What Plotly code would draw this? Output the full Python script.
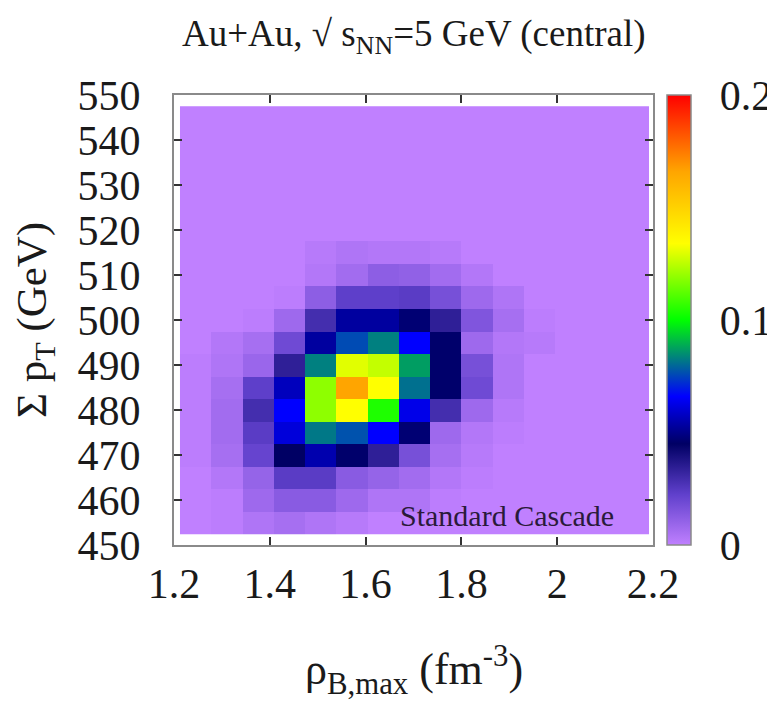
import plotly.graph_objects as go

# bin edges (rho_B,max in fm^-3, sum pT in GeV)
x_edges = [1.2125, 1.2778, 1.3431, 1.4084, 1.4737, 1.5390, 1.6043, 1.6696, 1.7349,
           1.8002, 1.8655, 1.9308, 1.9961, 2.0614, 2.1267, 2.1920]
y_edges = [452.5, 457.5, 462.5, 467.5, 472.5, 477.5, 482.5, 487.5, 492.5, 497.5,
           502.5, 507.5, 512.5, 517.5, 522.5, 527.5, 532.5, 537.5, 542.5, 547.5]

# probability per bin, one list per sum-pT row (15 rho bins each)
row_455 = [0, 0.001, 0.004, 0.006, 0.004, 0.002, 0, 0, 0, 0, 0, 0, 0, 0, 0]
row_460 = [0, 0.001, 0.008, 0.013, 0.013, 0.008, 0.004, 0.004, 0.001, 0, 0, 0, 0, 0, 0]
row_465 = [0, 0.003, 0.010, 0.024, 0.024, 0.013, 0.010, 0.007, 0.003, 0.001, 0, 0, 0, 0, 0]
row_470 = [0.001, 0.006, 0.021, 0.045, 0.055, 0.046, 0.034, 0.017, 0.006, 0.002, 0, 0, 0, 0, 0]
row_475 = [0.001, 0.007, 0.024, 0.061, 0.082, 0.077, 0.066, 0.047, 0.008, 0.003, 0.001, 0, 0, 0, 0]
row_480 = [0.001, 0.007, 0.029, 0.066, 0.119, 0.134, 0.104, 0.063, 0.029, 0.008, 0.002, 0, 0, 0, 0]
row_485 = [0.001, 0.006, 0.023, 0.057, 0.119, 0.166, 0.134, 0.081, 0.046, 0.019, 0.004, 0, 0, 0, 0]
row_490 = [0.001, 0.004, 0.009, 0.034, 0.083, 0.130, 0.126, 0.087, 0.046, 0.017, 0.004, 0, 0, 0, 0]
row_495 = [0, 0.003, 0.006, 0.019, 0.053, 0.076, 0.083, 0.066, 0.046, 0.008, 0.003, 0.002, 0, 0, 0]
row_500 = [0, 0, 0.001, 0.008, 0.029, 0.053, 0.053, 0.047, 0.034, 0.015, 0.006, 0.001, 0, 0, 0]
row_505 = [0, 0, 0, 0.001, 0.012, 0.023, 0.023, 0.024, 0.017, 0.008, 0.004, 0, 0, 0, 0]
row_510 = [0, 0, 0, 0, 0.003, 0.007, 0.012, 0.011, 0.007, 0.003, 0, 0, 0, 0, 0]
row_515 = [0, 0, 0, 0, 0.002, 0.004, 0.003, 0.003, 0.002, 0, 0, 0, 0, 0, 0]
row_520 = [0, 0, 0, 0, 0, 0, 0, 0, 0, 0, 0, 0, 0, 0, 0]
row_525 = [0, 0, 0, 0, 0, 0, 0, 0, 0, 0, 0, 0, 0, 0, 0]
row_530 = [0, 0, 0, 0, 0, 0, 0, 0, 0, 0, 0, 0, 0, 0, 0]
row_535 = [0, 0, 0, 0, 0, 0, 0, 0, 0, 0, 0, 0, 0, 0, 0]
row_540 = [0, 0, 0, 0, 0, 0, 0, 0, 0, 0, 0, 0, 0, 0, 0]
row_545 = [0, 0, 0, 0, 0, 0, 0, 0, 0, 0, 0, 0, 0, 0, 0]

z_rows = [row_455, row_460, row_465, row_470, row_475, row_480, row_485, row_490,
          row_495, row_500, row_505, row_510, row_515, row_520, row_525, row_530,
          row_535, row_540, row_545]

x_ticks = [1.2, 1.4, 1.6, 1.8, 2.0, 2.2]
x_ticklabels = ["1.2", "1.4", "1.6", "1.8", "2", "2.2"]
y_ticks = [450, 460, 470, 480, 490, 500, 510, 520, 530, 540, 550]
cb_ticks = [0, 0.1, 0.2]
cb_ticklabels = ["0", "0.1", "0.2"]

colorscale = [
    [0.0, "rgb(192,128,255)"],
    [0.1125, "rgb(96,64,204)"],
    [0.225, "rgb(0,0,100)"],
    [0.33, "rgb(0,0,255)"],
    [0.5, "rgb(0,255,0)"],
    [0.67, "rgb(255,255,0)"],
    [0.83, "rgb(255,165,0)"],
    [1.0, "rgb(255,0,0)"],
]

FONT = "Liberation Serif"
TXT = "#1a1a1a"

fig = go.Figure(go.Heatmap(
    x=x_edges, y=y_edges, z=z_rows,
    zmin=0, zmax=0.2, colorscale=colorscale, zsmooth=False,
    colorbar=dict(
        x=1.0292, xanchor="left", xref="paper",
        y=0.5, yanchor="middle", len=1.0, lenmode="fraction",
        thickness=24, thicknessmode="pixels",
        outlinecolor="#8a8a8a", outlinewidth=1.5,
        tickvals=cb_ticks, ticktext=cb_ticklabels,
        ticks="outside", ticklen=20, tickcolor="rgba(0,0,0,0)",
        tickfont=dict(family=FONT, size=42, color=TXT),
        xpad=0, ypad=0,
    ),
    showscale=True,
))

axis_common = dict(
    showline=True, linecolor="#8a8a8a", linewidth=2, mirror="allticks",
    ticks="inside", ticklen=8, tickwidth=1.5, tickcolor="#333",
    showgrid=False, zeroline=False,
    tickfont=dict(family=FONT, size=42, color=TXT),
)

fig.update_xaxes(range=[1.2, 2.2], tickvals=x_ticks, ticktext=x_ticklabels,
                 ticklabelstandoff=1, **axis_common)
fig.update_yaxes(range=[450, 550], tickvals=y_ticks,
                 ticklabelstandoff=23, **axis_common)

# 0.1 tick marks on the colour bar (both sides)
for x0, x1 in [(1.0292, 1.0501), (1.0626, 1.0793)]:
    fig.add_shape(type="line", xref="paper", yref="paper", x0=x0, x1=x1,
                  y0=0.5, y1=0.5, line=dict(color="#222", width=1.5, dash="solid"))

fig.add_annotation(text="Au+Au, √ s<sub>NN</sub>=5 GeV (central)", xref="paper", yref="paper",
                   x=0.5, y=1.13, xanchor="center", yanchor="middle", showarrow=False,
                   font=dict(family=FONT, size=37, color=TXT))
fig.add_annotation(text="ρ<sub>B,max</sub> (fm<sup>-3</sup>)", xref="paper", yref="paper",
                   x=0.5, y=-0.277, xanchor="center", yanchor="middle", showarrow=False,
                   font=dict(family=FONT, size=44, color=TXT))
fig.add_annotation(text="Σ p<sub>T</sub> (GeV)", xref="paper", yref="paper",
                   x=-0.29, y=0.5, xanchor="center", yanchor="middle", showarrow=False,
                   textangle=-90, font=dict(family=FONT, size=43, color=TXT))
fig.add_annotation(text="Standard Cascade", xref="x", yref="y",
                   x=1.896, y=456.6, xanchor="center", yanchor="middle", showarrow=False,
                   font=dict(family=FONT, size=30, color="#2a1a3a"))

# the page adds an 8 px body margin, so the margins are offset by 8 px
fig.update_layout(
    width=775, height=704,
    margin=dict(l=166, r=130, t=87, b=167, autoexpand=False),
    paper_bgcolor="white", plot_bgcolor="white",
    showlegend=False,
)

fig.write_html("out.html")
